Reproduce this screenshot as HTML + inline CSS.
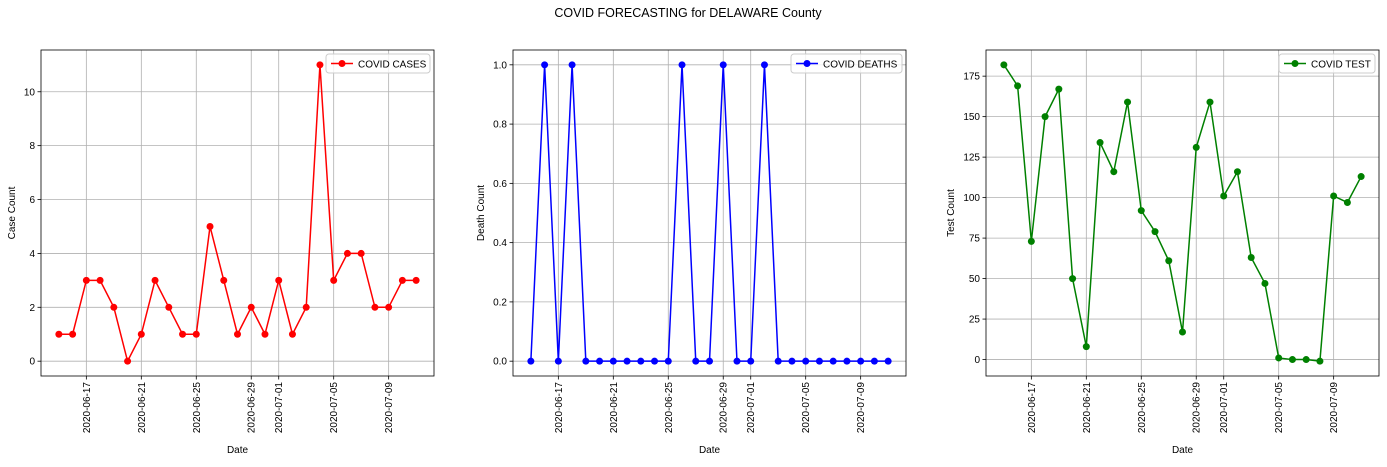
<!DOCTYPE html>
<html><head><meta charset="utf-8">
<style>
body{margin:0;background:#fff;font-family:"Liberation Sans","DejaVu Sans",sans-serif;}
svg text{font-family:"Liberation Sans","DejaVu Sans",sans-serif;}
</style></head>
<body>
<svg id="fig" width="1387" height="462" xmlns="http://www.w3.org/2000/svg">
<rect width="1387" height="462" fill="#fff"/>
<text x="688" y="17" font-size="12.5" text-anchor="middle">COVID FORECASTING for DELAWARE County</text>
</svg>
<script>
const dates = ["2020-06-15","2020-06-16","2020-06-17","2020-06-18","2020-06-19","2020-06-20","2020-06-21","2020-06-22","2020-06-23","2020-06-24","2020-06-25","2020-06-26","2020-06-27","2020-06-28","2020-06-29","2020-06-30","2020-07-01","2020-07-02","2020-07-03","2020-07-04","2020-07-05","2020-07-06","2020-07-07","2020-07-08","2020-07-09","2020-07-10","2020-07-11"];
const cases = [1,1,3,3,2,0,1,3,2,1,1,5,3,1,2,1,3,1,2,11,3,4,4,2,2,3,3];
const deaths = [0,1,0,1,0,0,0,0,0,0,0,1,0,0,1,0,0,1,0,0,0,0,0,0,0,0,0];
const tests = [182,169,73,150,167,50,8,134,116,159,92,79,61,17,131,159,101,116,63,47,1,0,0,-1,101,97,113];
const xTickLabels = ["2020-06-17","2020-06-21","2020-06-25","2020-06-29","2020-07-01","2020-07-05","2020-07-09"];
const caseTicks = [0,2,4,6,8,10];
const deathTicks = [0,0.2,0.4,0.6,0.8,1.0];
const testTicks = [0,25,50,75,100,125,150,175];

const NS="http://www.w3.org/2000/svg";
const svg=document.getElementById('fig');
function mk(tag,attrs,parent){const e=document.createElementNS(NS,tag);for(const k in attrs)e.setAttribute(k,attrs[k]);(parent||svg).appendChild(e);return e;}
function dayNum(s){return Date.parse(s+"T00:00:00Z")/86400000;}

function chart(opt){
  const L=opt.left,R=opt.left+393,T=50,B=376;
  const g=mk('g',{});
  
  
  const d0=dayNum(dates[0]),d1=dayNum(dates[dates.length-1]);
  const pad=(d1-d0)*0.05;
  const xs=d=>L+(dayNum(d)-(d0-pad))/((d1+pad)-(d0-pad))*(R-L);
  const vmin=Math.min(...opt.values),vmax=Math.max(...opt.values);
  const vp=(vmax-vmin)*0.05;
  const ys=v=>B-(v-(vmin-vp))/((vmax+vp)-(vmin-vp))*(B-T);
  // grid + ticks
  xTickLabels.forEach(t=>{
    const x=xs(t);
    const gl=mk('line',{x1:x,x2:x,y1:T,y2:B,stroke:'#b0b0b0','stroke-width':0.8},g);
    
    
    mk('line',{x1:x,x2:x,y1:B,y2:B+3.5,stroke:'#000','stroke-width':0.8},g);
    const tx=mk('text',{x:0,y:0,'font-size':10,'text-anchor':'end',transform:`translate(${x+3.5},${B+6}) rotate(-90)`},g);
    tx.textContent=t;
    
    
  });
  opt.ticks.forEach(v=>{
    const y=ys(v);
    const gl=mk('line',{x1:L,x2:R,y1:y,y2:y,stroke:'#b0b0b0','stroke-width':0.8},g);
    
    
    mk('line',{x1:L-3.5,x2:L,y1:y,y2:y,stroke:'#000','stroke-width':0.8},g);
    const tx=mk('text',{x:L-6,y:y+3.5,'font-size':10,'text-anchor':'end'},g);
    tx.textContent=opt.fmt(v);
    
    
  });
  // series
  const pts=dates.map((d,i)=>xs(d)+','+ys(opt.values[i])).join(' ');
  const line=mk('polyline',{points:pts,fill:'none',stroke:opt.color,'stroke-width':1.5},g);
  
  
  dates.forEach((d,i)=>{
    const c=mk('circle',{cx:xs(d),cy:ys(opt.values[i]),r:3.5,fill:opt.color},g);
    
    
  });
  const fr=mk('rect',{x:L,y:T,width:R-L,height:B-T,fill:'none',stroke:'#000','stroke-width':0.8},g);
  
  
  const xl=mk('text',{x:(L+R)/2,y:453,'font-size':10,'text-anchor':'middle'},g);
  xl.textContent='Date';
  
  
  const yl=mk('text',{x:0,y:0,'font-size':10,'text-anchor':'middle',transform:`translate(${opt.ylx},${(T+B)/2}) rotate(-90)`},g);
  yl.textContent=opt.ylabel;
  
  
  // legend
  const lw=opt.legW,lx=R-4-lw,ly=54;
  const lg=mk('g',{},g);
  
  
  mk('rect',{x:lx,y:ly,width:lw,height:19,rx:3,fill:'#fff','fill-opacity':0.8,stroke:'#ccc'},lg);
  mk('line',{x1:lx+5,x2:lx+27,y1:ly+9.5,y2:ly+9.5,stroke:opt.color,'stroke-width':1.5},lg);
  mk('circle',{cx:lx+16,cy:ly+9.5,r:3.5,fill:opt.color},lg);
  const lt=mk('text',{x:lx+32,y:ly+13.5,'font-size':10},lg);
  lt.textContent=opt.legend;
  
  
}
chart({name:'cases-chart',left:41,values:cases,ticks:caseTicks,fmt:v=>String(v),color:'#ff0000',ylabel:'Case Count',ylx:15,legend:'COVID CASES',legW:104});
chart({name:'deaths-chart',left:513,values:deaths,ticks:deathTicks,fmt:v=>v.toFixed(1),color:'#0000ff',ylabel:'Death Count',ylx:484,legend:'COVID DEATHS',legW:111});
chart({name:'tests-chart',left:986,values:tests,ticks:testTicks,fmt:v=>String(v),color:'#008000',ylabel:'Test Count',ylx:954,legend:'COVID TEST',legW:96});
</script>
</body></html>
